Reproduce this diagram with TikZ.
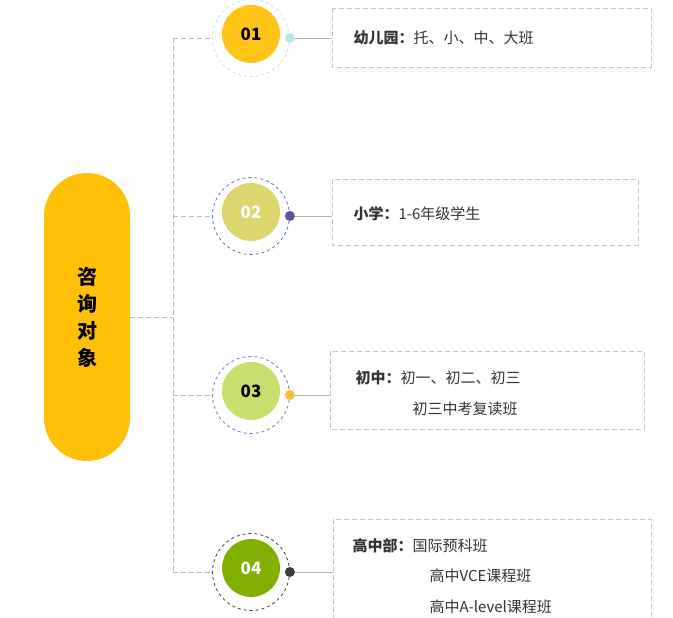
\documentclass[tikz,border=0pt]{standalone}
\usepackage{fontspec}
\setmainfont{Noto Sans CJK SC}
\definecolor{fc1}{RGB}{255,196,23}\definecolor{rc1}{RGB}{190,228,228}\definecolor{dc1}{RGB}{190,228,228}
\definecolor{fc2}{RGB}{220,214,110}\definecolor{rc2}{RGB}{110,100,200}\definecolor{dc2}{RGB}{90,85,160}
\definecolor{fc3}{RGB}{200,222,110}\definecolor{rc3}{RGB}{120,110,200}\definecolor{dc3}{RGB}{250,190,50}
\definecolor{fc4}{RGB}{130,176,0}\definecolor{rc4}{RGB}{60,60,60}\definecolor{dc4}{RGB}{60,60,60}
\definecolor{rootc}{RGB}{255,193,7}
\begin{document}
\begin{tikzpicture}[x=1pt,y=-1pt,
  dline/.style={draw=gray!55,line width=0.9pt,dash pattern=on 5pt off 3pt},
  circ/.style={circle,minimum size=58pt,inner sep=0pt,font=\bfseries\fontsize{17}{17}\selectfont},
  ring/.style={circle,minimum size=77pt,inner sep=0pt,draw,dashed,line width=0.8pt},
  box/.style={draw=gray!45,line width=0.9pt,dash pattern=on 5pt off 3pt},
  txt/.style={anchor=west,font=\fontsize{15}{30.5}\selectfont,text=black!80,align=left},
  link/.style={draw=gray!60,line width=0.8pt}]
\useasboundingbox (0,0) rectangle (673,618);
\node[fill=rootc,rounded corners=43pt,minimum width=86pt,minimum height=288pt,inner sep=0pt,
  font=\bfseries\fontsize{20}{27}\selectfont,align=center] (root) at (87,317) {咨\\询\\对\\象};
\coordinate (j0) at (173,317);
\coordinate (jt) at (173,38);
\coordinate (jb) at (173,572);
\draw[dline] (root.east) -- (j0);
\draw[dline] (jt) -- (jb);
\node[ring,draw=rc1] (r1) at (251,38) {};
\node[ring,draw=rc2] (r2) at (251,216) {};
\node[ring,draw=rc3] (r3) at (251,395) {};
\node[ring,draw=rc4] (r4) at (251,572) {};
\node[circ,fill=fc1,text=black] (c1) at (251,34) {01};
\node[circ,fill=fc2,text=white] (c2) at (251,212) {02};
\node[circ,fill=fc3,text=black] (c3) at (251,391) {03};
\node[circ,fill=fc4,text=white] (c4) at (251,568) {04};
\coordinate (h1) at (173,38); \coordinate (h2) at (173,216);
\coordinate (h3) at (173,395); \coordinate (h4) at (173,572);
\foreach \n in {1,...,4}{\draw[dline] (h\n) -- (r\n.west);}
\draw[box] (332,8) rectangle (651,67);
\draw[box] (332,179) rectangle (638,245);
\draw[box] (330,351) rectangle (644,429);
\draw[box] (333,620) |- (651,519) -- (651,620);
\coordinate (e1) at (332,38); \coordinate (e2) at (332,216);
\coordinate (e3) at (330,395); \coordinate (e4) at (333,572);
\foreach \n in {1,...,4}{\draw[link] (r\n.east) -- (e\n);}
\fill[dc1] (r1.east) circle (5pt);
\fill[dc2] (r2.east) circle (5pt);
\fill[dc3] (r3.east) circle (5pt);
\fill[dc4] (r4.east) circle (5pt);
\node[txt] (t1) at (350,38) {\textbf{幼儿园：}托、小、中、大班};
\node[txt] (t2) at (350,214) {\textbf{小学：}1-6年级学生};
\node[txt] (t3) at (352,393) {\textbf{初中：}初一、初二、初三\\\hspace*{57pt}初三中考复读班};
\node[txt] (t4) at (349,576) {\textbf{高中部：}国际预科班\\\hspace*{77pt}高中VCE课程班\\\hspace*{77pt}高中A-level课程班};
\end{tikzpicture}
\end{document}
